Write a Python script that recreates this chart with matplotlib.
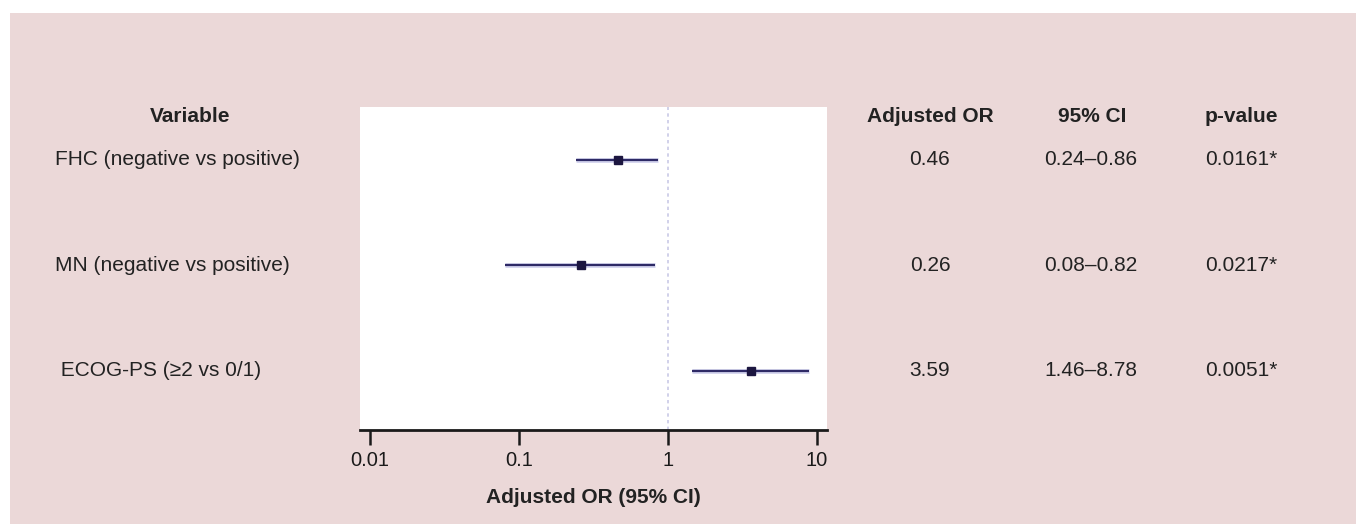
import matplotlib.pyplot as plt
import matplotlib.transforms as mtransforms
from matplotlib.patches import Rectangle

# data
variables = ['FHC (negative vs positive)', 'MN (negative vs positive)', ' ECOG-PS (\u22652 vs 0/1)']
odds = [0.46, 0.26, 3.59]
ci_low = [0.24, 0.08, 1.46]
ci_high = [0.86, 0.82, 8.78]
p_values = ['0.0161*', '0.0217*', '0.0051*']
ypos = [3, 2, 1]

plt.rcParams['font.family'] = ['Liberation Sans', 'DejaVu Sans']

W, H = 1356, 524
fig = plt.figure(figsize=(W / 100, H / 100), dpi=100)
fig.patch.set_facecolor('white')

# pink panel behind everything
fig.patches.append(Rectangle((10 / W, 0), 1, 1 - 13 / H, transform=fig.transFigure,
                             facecolor='#ebd8d8', edgecolor='none', zorder=-10))

ax = fig.add_axes([360 / W, 1 - 430 / H, 467 / W, 323 / H])
ax.set_facecolor('white')
ax.set_xscale('log')
ax.set_xlim(10 ** -2.067, 10 ** 1.067)
ax.set_ylim(0.44, 3.5)

ax.axvline(1, color='#c9c9e6', lw=1.2, ls=(0, (2, 2)), zorder=1)

for y, o, lo, hi in zip(ypos, odds, ci_low, ci_high):
    ax.plot([lo, hi], [y, y], color='#d4d4ee', lw=3.5, solid_capstyle='butt', zorder=2)
    ax.plot([lo, hi], [y, y], color='#2e2a66', lw=1.6, solid_capstyle='butt', zorder=3)
    ax.plot(o, y, 's', color='#1c1640', ms=6, zorder=4)

for s in ['top', 'right', 'left']:
    ax.spines[s].set_visible(False)
ax.spines['bottom'].set_linewidth(2)
ax.spines['bottom'].set_color('#1a1a1a')
ax.set_yticks([])
ax.set_xticks([0.01, 0.1, 1, 10])
ax.set_xticklabels(['0.01', '0.1', '1', '10'])
ax.xaxis.set_minor_locator(plt.NullLocator())
ax.tick_params(axis='x', length=11, width=1.8, direction='out', labelsize=14.5,
               colors='#1a1a1a', pad=4)
ax.set_xlabel('Adjusted OR (95% CI)', fontsize=15, fontweight='bold', color='#222222',
              labelpad=13)

# table text: figure x, data y
trans = mtransforms.blended_transform_factory(fig.transFigure, ax.transData)
txt = dict(fontsize=15, color='#222222', va='center')
for y, v, o, lo, hi, p in zip(ypos, variables, odds, ci_low, ci_high, p_values):
    ax.text(55 / W, y, v, transform=trans, ha='left', clip_on=False, **txt)
    ax.text(930 / W, y, f'{o:.2f}', transform=trans, ha='center', clip_on=False, **txt)
    ax.text(1091 / W, y, f'{lo:.2f}\u2013{hi:.2f}', transform=trans, ha='center', clip_on=False, **txt)
    ax.text(1241 / W, y, p, transform=trans, ha='center', clip_on=False, **txt)

hdr = dict(fontsize=15, fontweight='bold', color='#222222', va='center', ha='center')
ytop = 1 - 117 / H
fig.text(190 / W, ytop, 'Variable', **hdr)
fig.text(930 / W, ytop, 'Adjusted OR', **hdr)
fig.text(1092 / W, ytop, '95% CI', **hdr)
fig.text(1241 / W, ytop, 'p-value', **hdr)

fig.savefig('out.png', dpi=100)
